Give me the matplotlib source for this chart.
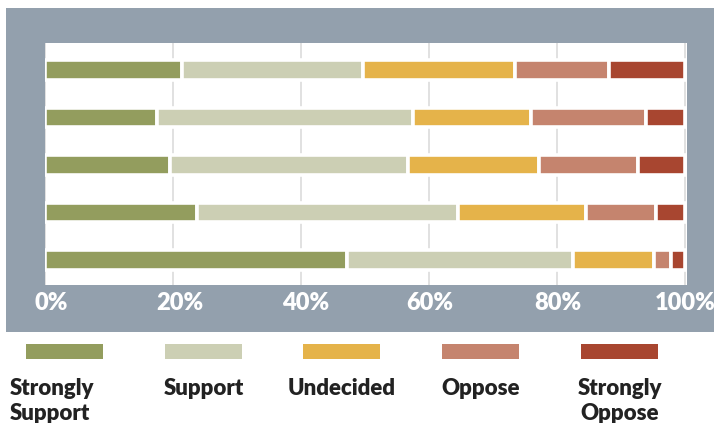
import numpy as np
import matplotlib.pyplot as plt
import matplotlib.transforms as mtransforms
from matplotlib.patches import Rectangle

FIG_W, FIG_H = 714, 423

# survey data (percent of responses), top bar first
categories = ["Strongly\nSupport", "Support", "Undecided", "Oppose", "Strongly\nOppose"]
colors = ["#939d5e", "#cccfb4", "#e5b34a", "#c5846e", "#a84630"]
rows = ["A", "B", "C", "D", "E"]
strongly_support = [21.4, 17.5, 19.5, 23.7, 47.2]
support = [28.2, 39.9, 37.1, 40.7, 35.3]
undecided = [23.8, 18.4, 20.6, 20.0, 12.6]
oppose = [14.7, 18.1, 15.4, 11.0, 2.7]
strongly_oppose = [11.9, 6.1, 7.4, 4.6, 2.2]
tick_values = [0, 20, 40, 60, 80, 100]
tick_labels = ["0%", "20%", "40%", "60%", "80%", "100%"]

series = [strongly_support, support, undecided, oppose, strongly_oppose]

plt.rcParams["font.family"] = ["Lato", "DejaVu Sans"]

fig = plt.figure(figsize=(FIG_W / 100, FIG_H / 100), dpi=100)

# gray frame behind the plot
fig.patches.append(Rectangle((6 / FIG_W, 1 - 332 / FIG_H), (FIG_W - 6) / FIG_W, (332 - 8) / FIG_H,
                             transform=fig.transFigure, facecolor="#93a0ad", edgecolor="none", zorder=-5))

ax = fig.add_axes([45 / FIG_W, 1 - 285 / FIG_H, (687 - 45) / FIG_W, (285 - 43) / FIG_H])
ax.set_zorder(2)
ax.set_facecolor("white")

y = np.arange(len(rows))
left = np.zeros(len(rows))
for vals, col in zip(series, colors):
    ax.barh(y, vals, left=left, height=0.41, color=col, edgecolor="white", linewidth=2.6, zorder=3)
    left += np.array(vals)

ax.set_xlim(-0.05, 100.25)
ax.set_ylim(4.53, -0.57)
ax.set_yticks([])
ax.set_xticks(tick_values)
ax.set_xticklabels(tick_labels, color="white", fontsize=17, fontweight="heavy")
ax.tick_params(axis="x", length=0, pad=5)
ax.grid(axis="x", color="#d9d9d9", linewidth=1.1, zorder=1)
for s in ax.spines.values():
    s.set_visible(False)

# nudge the first labels a bit right like the original
for lbl, dx in zip(ax.get_xticklabels(), [6, 6, 4, 0, 0, 0]):
    if dx:
        lbl.set_transform(lbl.get_transform() + mtransforms.ScaledTranslation(dx / 100, 0, fig.dpi_scale_trans))

# legend below the frame
px = [26, 165, 303, 442, 581]
for i, (lab, col) in enumerate(zip(categories, colors)):
    fig.patches.append(Rectangle((px[i] / FIG_W, 1 - 359 / FIG_H), 77 / FIG_W, 15 / FIG_H,
                                 transform=fig.transFigure, facecolor=col, edgecolor="none"))
    if i == 0:
        fig.text(10 / FIG_W, 1 - 378 / FIG_H, lab, ha="left", va="top", fontsize=16,
                 fontweight="heavy", color="#222222", linespacing=1.22)
    else:
        fig.text((px[i] + 38.5) / FIG_W, 1 - 378 / FIG_H, lab, ha="center", va="top", fontsize=16,
                 fontweight="heavy", color="#222222", linespacing=1.22, multialignment="center")

plt.savefig("out.png", dpi=100)
